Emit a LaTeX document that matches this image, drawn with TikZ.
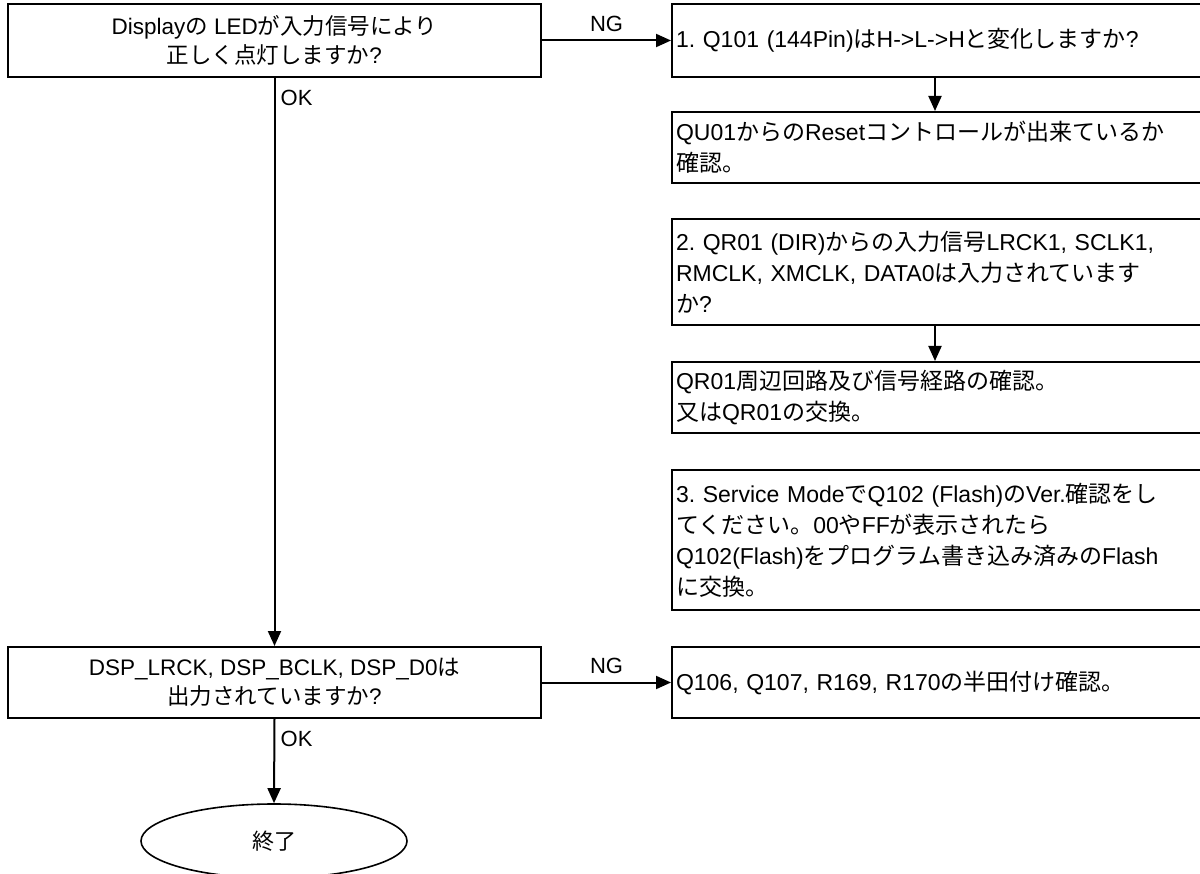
\documentclass[tikz,border=0pt]{standalone}
\usepackage{fontspec}
\setmainfont{Liberation Sans}
\newfontfamily\jp{Noto Sans CJK JP}
\usetikzlibrary{arrows.meta,shapes.geometric}
\newcommand\J[1]{{\jp #1}}
\frenchspacing
\begin{document}
\begin{tikzpicture}[x=1pt,y=-1pt,
  box/.style={draw, line width=2pt, rectangle, inner sep=0pt},
  lbox/.style={box, minimum width=533pt, align=center, font=\fontsize{22.5}{29}\selectfont},
  rbox/.style={box, align=left, inner xsep=4pt, inner ysep=0pt, text width=535pt, font=\fontsize{23}{31}\selectfont},
  arr/.style={line width=2pt, -{Triangle[length=15pt,width=13pt]}},
  lbl/.style={inner sep=0pt, font=\fontsize{22}{26}\selectfont},
  endbox/.style={draw, line width=1.6pt, ellipse, minimum width=266pt, minimum height=74pt, inner sep=0pt, font=\fontsize{22}{26}\selectfont}
]
\useasboundingbox (0,0) rectangle (1200,874);
\clip (0,0) rectangle (1200,874);

% left column
\node[lbox, minimum height=73pt] (q1) at (274.5,40.5)
  {Display\J{の} LED\J{が入力信号により}\\\J{正しく点灯しますか}?};
\node[lbox, minimum height=71pt] (q2) at (274.5,682.5)
  {DSP\_LRCK, DSP\_BCLK, DSP\_D0\J{は}\\\J{出力されていますか}?};
\node[endbox] (end) at (274,841) {\J{終了}};

% right column
\node[rbox, minimum height=73pt] (a) at (943.5,40.5)
  {1. Q101 (144Pin)\J{は}H->L->H\J{と変化しますか}?};
\node[rbox, minimum height=71pt] (b) at (943.5,147.5)
  {QU01\J{からの}Reset\J{コントロールが出来ているか}\\\J{確認。}};
\node[rbox, minimum height=106pt] (c) at (943.5,272)
  {2. QR01 (DIR)\J{からの入力信号}LRCK1, SCLK1,\\RMCLK, XMCLK, DATA0\J{は入力されています}\\\J{か}?};
\node[rbox, minimum height=71pt] (d) at (943.5,397.5)
  {QR01\J{周辺回路及び信号経路の確認。}\\\J{又は}QR01\J{の交換。}};
\node[rbox, minimum height=140pt] (e) at (943.5,540)
  {3. Service Mode\J{で}Q102 (Flash)\J{の}Ver.\J{確認をし}\\\J{てください。}00\J{や}FF\J{が表示されたら}\\Q102(Flash)\J{をプログラム書き込み済みの}Flash\\\J{に交換。}};
\node[rbox, minimum height=71pt] (g) at (943.5,682.5)
  {Q106, Q107, R169, R170\J{の半田付け確認。}};

\coordinate (ax) at (935,0);

% connectors
\draw[arr] (q1.south) -- (q2.north);
\draw[arr] (q2.south) -- (end.north);
\draw[arr] (q1.east) -- node[lbl, above=8pt] {NG} (a.west);
\draw[arr] (q2.east) -- node[lbl, above=8pt] {NG} (g.west);
\draw[arr] (a.south -| ax) -- (b.north -| ax);
\draw[arr] (c.south -| ax) -- (d.north -| ax);

% labels
\node[lbl, anchor=west] (ok1) at ([xshift=6pt,yshift=-20pt]q1.south) {OK};
\node[lbl, anchor=west] (ok2) at ([xshift=6pt,yshift=-20pt]q2.south) {OK};
\end{tikzpicture}
\end{document}
